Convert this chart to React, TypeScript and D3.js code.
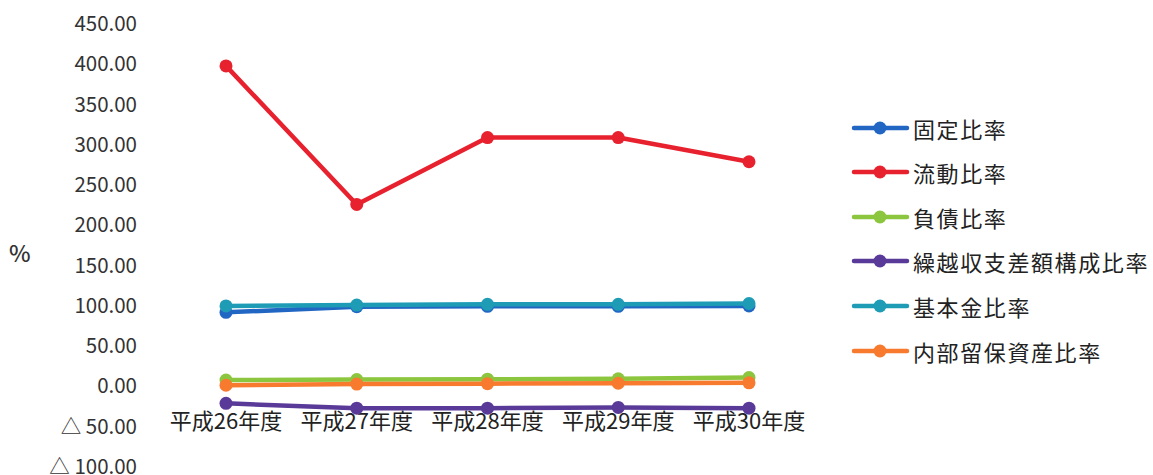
import React from "react";
import * as d3 from "d3";

const categories = ["平成26年度", "平成27年度", "平成28年度", "平成29年度", "平成30年度"];
const fixedRatio = [92, 99, 99.5, 99.5, 100];
const currentRatio = [398, 226, 309, 309, 279];
const debtRatio = [8, 8.5, 9, 9.5, 11];
const carryoverRatio = [-21, -27, -27, -26, -27];
const basicFundRatio = [100, 101, 102, 102, 103];
const reserveRatio = [1.5, 3, 3.5, 4, 4.5];
const yTicks = [450, 400, 350, 300, 250, 200, 150, 100, 50, 0, -50, -100];

const seriesNames = ["固定比率", "流動比率", "負債比率", "繰越収支差額構成比率", "基本金比率", "内部留保資産比率"];
const seriesColors = ["#2266c4", "#e8212f", "#8cc63e", "#5a3a98", "#1e9cb6", "#f77a2e"];
const seriesValues = [fixedRatio, currentRatio, debtRatio, carryoverRatio, basicFundRatio, reserveRatio];
// draw order (back to front)
const drawOrder = [1, 3, 2, 5, 0, 4];

const fmt = (v: number) => (v < 0 ? "△ " + Math.abs(v).toFixed(2) : v.toFixed(2));

export default function App() {
  const W = 1153, H = 475;
  const x = d3.scalePoint<string>().domain(categories).range([226, 749]);
  const y = d3.scaleLinear().domain([-100, 450]).range([467, 24]);
  const line = d3.line<number>().x((_, i) => x(categories[i]) as number).y((d) => y(d));
  const font = "'Noto Sans CJK JP', 'Noto Sans', sans-serif";
  const legendY = [128, 172, 217, 261, 306, 351];
  return (
    <svg width={W} height={H} style={{ position: "absolute", left: 0, top: 0, background: "#fff" }} fontFamily={font}>
      {yTicks.map((t) => (
        <text key={t} x={137} y={y(t) - 2} textAnchor="end" dominantBaseline="central" fontSize={20.5} fill="#333">
          {fmt(t)}
        </text>
      ))}
      <text x={9} y={252} dominantBaseline="central" fontSize={23} fontWeight={500} fill="#333">%</text>
      {categories.map((c) => (
        <text key={c} x={x(c) as number} y={y(0) + 33} textAnchor="middle" dominantBaseline="central" fontSize={22} fill="#222">
          {c}
        </text>
      ))}
      {drawOrder.map((si) => (
        <g key={si}>
          <path d={line(seriesValues[si]) || ""} fill="none" stroke={seriesColors[si]} strokeWidth={4.5} strokeLinejoin="round" />
          {seriesValues[si].map((v, i) => (
            <circle key={i} cx={x(categories[i]) as number} cy={y(v)} r={6.5} fill={seriesColors[si]} />
          ))}
        </g>
      ))}
      {seriesNames.map((n, i) => (
        <g key={n}>
          <line x1={854} x2={907} y1={legendY[i]} y2={legendY[i]} stroke={seriesColors[i]} strokeWidth={4.5} strokeLinecap="round" />
          <circle cx={880} cy={legendY[i]} r={6.5} fill={seriesColors[i]} />
          <text x={913} y={legendY[i]} dominantBaseline="central" fontSize={22} letterSpacing={1.6} fill="#222">{n}</text>
        </g>
      ))}
    </svg>
  );
}
